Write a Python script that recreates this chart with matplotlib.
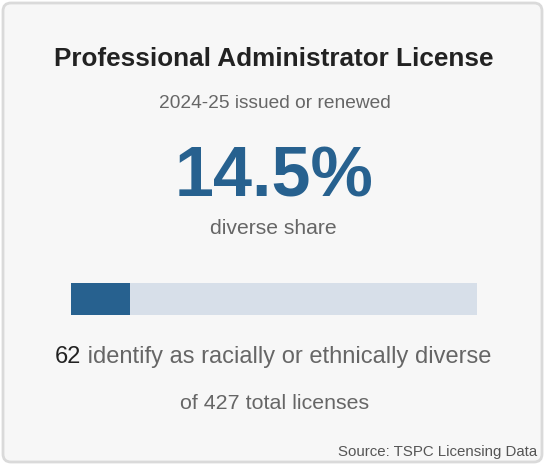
import matplotlib
matplotlib.use("Agg")
import matplotlib.pyplot as plt
from matplotlib.patches import FancyBboxPatch

title = "Professional Administrator License"
subtitle = "2024-25 issued or renewed"
diverse_count = 62
total_count = 427
share = diverse_count / total_count
source = "Source: TSPC Licensing Data"

W, H = 545, 465
fig = plt.figure(figsize=(W / 100, H / 100), dpi=100)
fig.patch.set_facecolor("white")
ax = fig.add_axes([0, 0, 1, 1])
ax.set_xlim(0, W)
ax.set_ylim(H, 0)
ax.axis("off")

card = FancyBboxPatch((3, 3), W - 6, H - 6, boxstyle="round,pad=0,rounding_size=8",
                      facecolor="#f7f7f7", edgecolor="#dadada", linewidth=2)
ax.add_patch(card)

font = "Liberation Sans"
blue = "#27618f"
ax.text(W / 2 + 1, 59, title, ha="center", va="center", fontsize=18.8, fontweight="bold",
        color="#222222", family=font)
ax.text(W / 2 + 2, 103, subtitle, ha="center", va="center", fontsize=13.8,
        color="#666666", family=font)
ax.text(W / 2 + 2, 196, f"{share * 100:.1f}%", ha="center", va="baseline", fontsize=50.5,
        fontweight="bold", color=blue, family=font)
ax.text(W / 2 + 0.5, 228, "diverse share", ha="center", va="center", fontsize=15.2,
        color="#666666", family=font)

# progress bar
bx0, bx1, by0, by1 = 71, 477, 283, 315
bax = fig.add_axes([bx0 / W, 1 - by1 / H, (bx1 - bx0) / W, (by1 - by0) / H])
bax.set_xlim(0, 1)
bax.set_ylim(-0.5, 0.5)
bax.axis("off")
bax.barh(0, 1, height=1, color="#d7dfe9", left=0)
bax.barh(0, share, height=1, color=blue, left=0)

# count line
fs = 17
t1 = ax.text(55, 357, f"{diverse_count}", ha="left", va="center", fontsize=fs,
             color="#222222", family=font)
fig.canvas.draw()
bb = t1.get_window_extent()
ax.annotate(" identify as racially or ethnically diverse", xy=(bb.x1, H - 357),
            xycoords="figure pixels", ha="left", va="center", fontsize=fs,
            color="#666666", family=font)
ax.text(W / 2 + 2, 403, f"of {total_count} total licenses", ha="center", va="center",
        fontsize=15.4, color="#666666", family=font)
ax.text(537, 452, source, ha="right", va="center", fontsize=10.8,
        color="#555555", family=font)

fig.savefig("out.png", dpi=100, facecolor="white")
